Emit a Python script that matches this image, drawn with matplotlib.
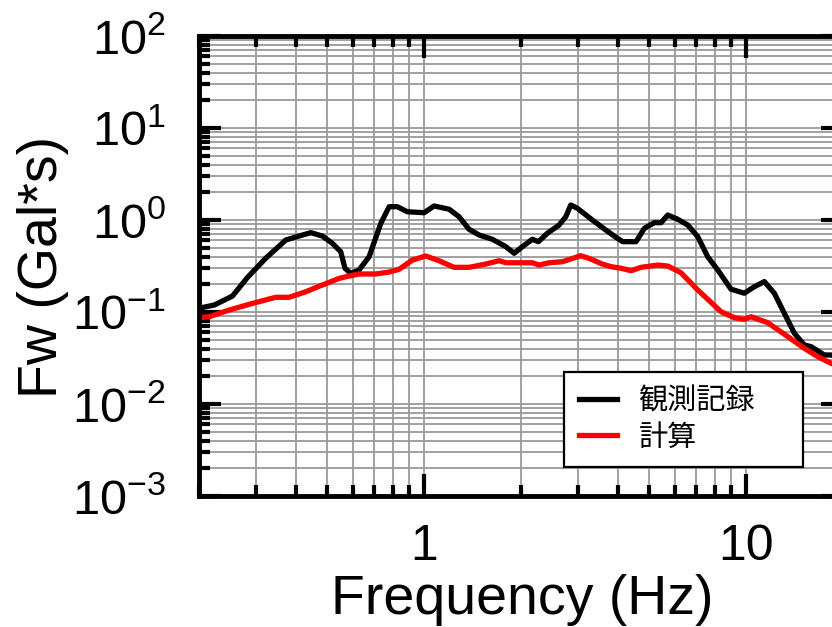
import matplotlib

matplotlib.use("Agg")
import matplotlib.pyplot as plt
from matplotlib import ticker

# Observed record (観測記録)
OBS_FREQ = [
    0.200, 0.223, 0.254, 0.283, 0.322, 0.372, 0.409, 0.445, 0.483, 0.519,
    0.551, 0.568, 0.592, 0.628, 0.675, 0.734, 0.779, 0.826, 0.887, 1.000,
    1.074, 1.196, 1.284, 1.380, 1.482, 1.630, 1.794, 1.904, 2.020, 2.169,
    2.265, 2.415, 2.626, 2.755, 2.855, 2.993, 3.332, 3.667, 3.984, 4.141,
    4.553, 4.833, 5.190, 5.445, 5.711, 6.136, 6.592, 7.080, 7.600, 8.170,
    8.980, 9.880, 10.60, 11.40, 12.24, 13.15, 14.13, 15.17, 15.92, 17.51,
    18.37, 19.70,
]
OBS_AMP = [
    0.110, 0.119, 0.149, 0.238, 0.383, 0.606, 0.670, 0.728, 0.670, 0.558,
    0.452, 0.299, 0.263, 0.286, 0.399, 0.921, 1.395, 1.395, 1.230, 1.200,
    1.420, 1.310, 1.086, 0.792, 0.687, 0.617, 0.513, 0.435, 0.513, 0.617,
    0.581, 0.717, 0.882, 1.086, 1.456, 1.340, 1.000, 0.778, 0.633, 0.581,
    0.581, 0.812, 0.935, 0.935, 1.133, 1.018, 0.882, 0.658, 0.399, 0.286,
    0.177, 0.160, 0.188, 0.214, 0.160, 0.0968, 0.0587, 0.0438, 0.0420, 0.0341,
    0.0341, 0.0316,
]

# Calculated (計算)
CALC_FREQ = [
    0.200, 0.215, 0.248, 0.293, 0.346, 0.381, 0.429, 0.483, 0.545, 0.585,
    0.628, 0.708, 0.779, 0.836, 0.920, 1.012, 1.113, 1.239, 1.380, 1.554,
    1.710, 1.794, 2.169, 2.276, 2.444, 2.689, 3.066, 3.253, 3.579, 3.808,
    4.091, 4.395, 4.720, 5.319, 5.711, 6.280, 7.080, 8.364, 9.200, 9.880,
    10.36, 11.68, 13.48, 15.17, 16.70, 18.37, 19.70,
]
CALC_AMP = [
    0.0867, 0.0889, 0.105, 0.124, 0.1445, 0.1445, 0.166, 0.1965, 0.232, 0.246,
    0.259, 0.259, 0.272, 0.291, 0.367, 0.406, 0.361, 0.306, 0.306, 0.332,
    0.361, 0.343, 0.343, 0.324, 0.343, 0.352, 0.409, 0.383, 0.332, 0.311,
    0.299, 0.281, 0.306, 0.324, 0.316, 0.267, 0.1735, 0.1007, 0.0867, 0.0833,
    0.0889, 0.0765, 0.054, 0.0403, 0.0327, 0.0277, 0.0252,
]

LEGEND_LABELS = ["観測記録", "計算"]
X_LABEL = "Frequency (Hz)"
Y_LABEL = "Fw (Gal*s)"

plt.rcParams["font.family"] = ["Liberation Sans", "Noto Sans CJK JP", "DejaVu Sans"]
plt.rcParams["mathtext.fontset"] = "custom"
plt.rcParams["mathtext.rm"] = "Liberation Sans"
plt.rcParams["mathtext.default"] = "regular"


def style_axes(ax):
    ax.set_xscale("log")
    ax.set_yscale("log")
    ax.set_xlim(0.2, 20)
    ax.set_ylim(1e-3, 1e2)
    ax.set_axisbelow(True)

    for spine in ax.spines.values():
        spine.set_linewidth(3.5)

    ax.xaxis.set_major_formatter(ticker.FormatStrFormatter("%g"))
    ax.xaxis.set_minor_formatter(ticker.NullFormatter())
    ax.yaxis.set_major_locator(ticker.LogLocator(base=10, numticks=10))
    ax.yaxis.set_minor_locator(
        ticker.LogLocator(base=10, subs=range(2, 10), numticks=10)
    )
    ax.yaxis.set_minor_formatter(ticker.NullFormatter())

    ax.tick_params(
        which="both", direction="in", top=True, right=True, width=3
    )
    ax.tick_params(which="major", length=16)
    ax.tick_params(which="minor", length=8)
    ax.tick_params(axis="x", which="major", labelsize=36, pad=20)
    ax.tick_params(axis="y", which="major", labelsize=35, pad=24)


def draw_grid(ax):
    # Grid drawn as plain lines under the axis so the tick marks stay on top
    xmin, xmax = ax.get_xlim()
    ymin, ymax = ax.get_ylim()
    xlocs = list(ax.xaxis.get_majorticklocs()) + list(ax.xaxis.get_minorticklocs())
    ylocs = list(ax.yaxis.get_majorticklocs()) + list(ax.yaxis.get_minorticklocs())
    for x in xlocs:
        if xmin < x < xmax:
            ax.axvline(x, color="#9a9a9a", linewidth=1.3, zorder=0.3)
    for y in ylocs:
        if ymin < y < ymax:
            ax.axhline(y, color="#9a9a9a", linewidth=1.3, zorder=0.3)


def main():
    fig = plt.figure(figsize=(8.32, 6.27), dpi=100)
    ax = fig.add_axes([0.2392, 0.2089, 0.7740, 0.7337])
    style_axes(ax)
    draw_grid(ax)

    ax.plot(OBS_FREQ, OBS_AMP, color="black", linewidth=3.8,
            label=LEGEND_LABELS[0], solid_joinstyle="round")
    ax.plot(CALC_FREQ, CALC_AMP, color="#ff0000", linewidth=3.8,
            label=LEGEND_LABELS[1], solid_joinstyle="round")

    # legend box spans x 563..802 px in the reference
    leg = ax.legend(
        loc="lower left",
        bbox_to_anchor=(0.567, 0.063, 0.371, 0.2),
        mode="expand",
        prop={"family": ["Noto Sans CJK JP", "DejaVu Sans"], "size": 21},
        frameon=True,
        fancybox=False,
        framealpha=1,
        edgecolor="black",
        borderpad=0.5,
        handlelength=1.3,
        handletextpad=0.75,
        labelspacing=0.2,
        borderaxespad=0,
    )
    leg.get_frame().set_linewidth(1.6)

    fig.text(43 / 832, 1 - 267 / 627, Y_LABEL, rotation=90,
             ha="center", va="center", fontsize=40)
    fig.text(522 / 832, 1 - 614 / 627, X_LABEL,
             ha="center", va="baseline", fontsize=40)

    fig.savefig("out.png", dpi=100)


if __name__ == "__main__":
    main()
